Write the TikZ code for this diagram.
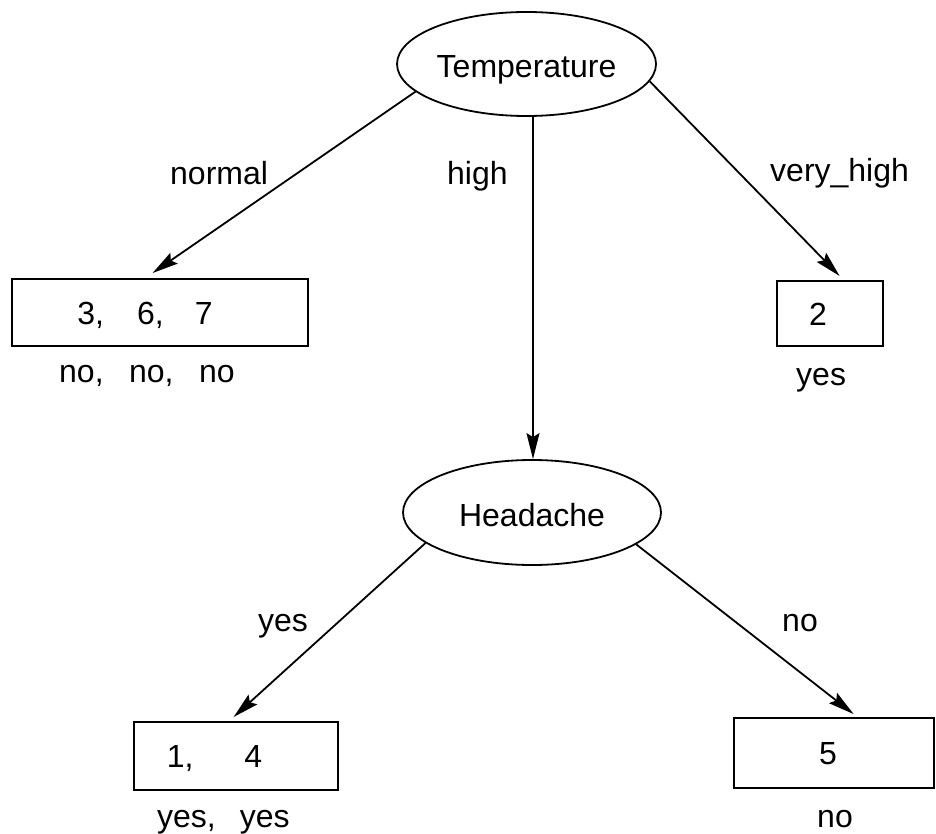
\documentclass[tikz,border=0pt]{standalone}
\usepackage{fontspec}
\setmainfont{Liberation Sans}
\usetikzlibrary{arrows.meta,shapes.geometric}
\begin{document}
\begin{tikzpicture}[x=1pt,y=-1pt,>={Stealth[length=26pt,width=13pt,inset=4pt]},
  font=\fontsize{32}{38}\selectfont,
  attr/.style={draw,ellipse,line width=1.8pt,minimum width=259pt,minimum height=104pt,inner sep=0pt,text height=28pt,text depth=0pt},
  leaf/.style={draw,rectangle,line width=2pt,inner sep=0pt,text height=23pt,text depth=0pt},
  lbl/.style={anchor=base west,inner sep=0pt},
  link/.style={->,line width=1.8pt}]
\useasboundingbox (0,0) rectangle (936,834);
% attribute nodes
\node[attr] (temp) at (526.5,64){Temperature};
\node[attr,minimum width=258pt,minimum height=105pt] (head) at (532,512.5){Headache};
% leaves
\node[leaf,minimum width=296pt,minimum height=67pt] (l1) at (160,312.5){3,\hspace{33pt}6,\hspace{31pt}7\rule{30pt}{0pt}};
\node[leaf,minimum width=106pt,minimum height=65pt] (l2) at (830,313.5){2\rule{24pt}{0pt}};
\node[leaf,minimum width=204pt,minimum height=68pt] (l3) at (236,756){1,\hspace{51pt}4\rule{43pt}{0pt}};
\node[leaf,minimum width=200pt,minimum height=70pt] (l4) at (834,753){5\rule{12pt}{0pt}};
\node[lbl] (c1) at (59,382){no,\hspace{25.5pt}no,\hspace{25.5pt}no};
\node[lbl] (c2) at (796,385){yes};
\node[lbl] (c3) at (157,827){yes,\hspace{24pt}yes};
\node[lbl] (c4) at (817,827){no};
% branch labels
\node[lbl] (e1) at (170,185){normal};
\node[lbl] (e2) at (447,185){high};
\node[lbl] (e3) at (770,182){very\_high};
\node[lbl] (e4) at (258,631){yes};
\node[lbl] (e5) at (782,631){no};
% branches
\draw[link,shorten >=8.8pt] (temp.194)--(l1.113);
\draw[link] (temp.-83)--(temp.-83 |- head.north);
\draw[link,shorten >=5.6pt] (temp.-8)--(l2.68);
\draw[link,shorten >=5.9pt] (head.196)--(l3.101);
\draw[link,shorten >=4.8pt] (head.-17)--(l4.57);
\end{tikzpicture}
\end{document}
